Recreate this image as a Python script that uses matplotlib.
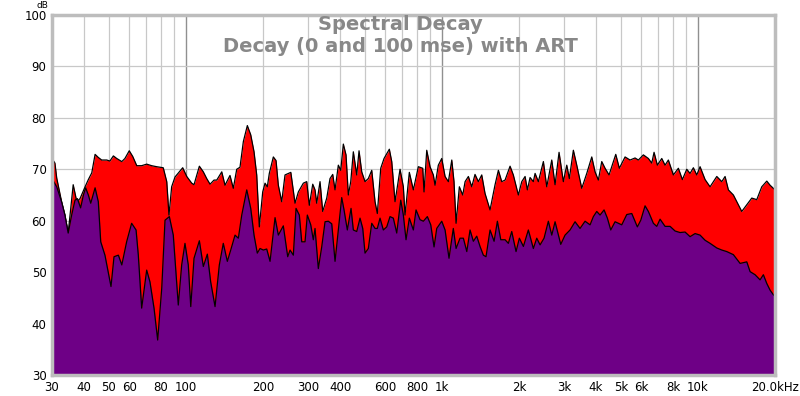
import numpy as np
import matplotlib
matplotlib.use("Agg")
import matplotlib.pyplot as plt
from matplotlib.ticker import FixedLocator, NullFormatter, NullLocator

# %%	data (Hz, dB)

freq_0ms = [
    30.0, 30.8, 31.3, 32.7, 33.7, 34.7, 36.3, 37.5, 38.6, 40.4, 41.6, 42.9, 44.2, 45.5, 46.9,
    49.1, 50.5, 52.1, 53.7, 56.2, 57.8, 60.1, 62.0, 64.3, 67.2, 70.3, 73.5, 76.9, 81.6, 84.2,
    85.9, 88.0, 90.7, 92.1, 97.2, 100.8, 105.4, 107.6, 112.9, 117.0, 120.6, 124.3, 128.8, 132.0,
    138.1, 142.2, 148.7, 153.2, 158.0, 162.7, 167.7, 173.8, 179.2, 184.6, 189.1, 193.6, 199.6,
    203.8, 208.0, 211.8, 219.6, 225.0, 229.7, 236.8, 243.9, 257.0, 266.9, 275.0, 287.6, 296.5,
    303.5, 313.0, 319.5, 324.4, 334.2, 342.4, 355.0, 365.6, 374.6, 382.5, 394.0, 402.6, 412.1,
    422.2, 431.1, 440.5, 450.9, 464.9, 474.6, 486.3, 500.9, 516.0, 532.1, 548.1, 559.5, 576.9,
    594.3, 623.3, 636.9, 656.1, 686.3, 707.0, 717.8, 746.1, 773.5, 809.1, 841.7, 851.6, 872.6,
    898.8, 925.9, 940.2, 968.5, 998.6, 1029, 1060, 1093, 1115, 1136, 1170, 1206, 1232, 1269,
    1308, 1347, 1388, 1431, 1474, 1542, 1613, 1662, 1713, 1765, 1846, 1901, 1989, 2051, 2113,
    2157, 2210, 2276, 2312, 2381, 2491, 2568, 2686, 2767, 2868, 2981, 3074, 3146, 3262, 3363,
    3518, 3680, 3849, 3965, 4084, 4211, 4338, 4497, 4607, 4776, 4933, 5193, 5432, 5681, 5853,
    6122, 6404, 6602, 6740, 6944, 7224, 7441, 7666, 8018, 8387, 8695, 9045, 9318, 9599, 9897,
    10195, 10664, 11154, 11848, 12392, 12766, 13151, 13756, 14834, 15517, 16231, 16977, 17758,
    18575, 19135, 20000,
]
db_0ms = [
    72.1, 71.2, 68.3, 63.7, 61.1, 57.6, 67.0, 63.7, 64.3, 66.6, 68.0, 69.3, 72.9, 72.3, 71.8,
    71.8, 71.6, 72.6, 72.1, 71.5, 72.1, 73.6, 72.5, 70.7, 70.7, 71.0, 70.7, 70.5, 70.3, 67.6,
    61.1, 66.6, 68.5, 68.9, 70.3, 68.6, 67.3, 67.0, 70.6, 69.5, 68.2, 67.1, 67.9, 67.9,
    69.5, 66.9, 68.8, 66.3, 70.0, 70.4, 75.4, 78.5, 76.7, 73.4, 68.9, 58.8, 65.6,
    67.3, 66.6, 69.2, 72.4, 71.7, 66.9, 63.7, 68.9, 69.4, 63.4, 65.6, 67.3, 67.6,
    63.0, 67.1, 66.0, 63.4, 67.6, 61.8, 64.4, 68.2, 69.0, 66.0, 70.8, 69.8, 74.9,
    72.8, 65.0, 67.6, 73.4, 68.9, 73.6, 69.5, 67.6, 68.2, 69.8, 63.7, 61.4, 70.2,
    72.1, 73.9, 71.5, 63.7, 70.0, 66.6, 61.1, 69.4, 66.0, 70.5, 70.2, 65.6, 73.7,
    70.5, 68.9, 66.9, 70.8, 72.1, 68.6, 67.6, 71.8, 67.6, 59.5, 66.6, 65.0, 67.6, 68.6,
    66.6, 69.0, 67.6, 68.9, 65.3, 62.1, 67.0, 69.8, 67.6, 67.9, 70.6, 68.9, 65.0, 67.6, 68.6,
    66.0, 68.4, 67.6, 69.2, 67.6, 71.5, 66.6, 71.8, 67.0, 73.3, 67.6, 70.8, 68.2, 73.7, 70.8,
    66.3, 69.2, 72.4, 69.5, 67.9, 71.5, 70.2, 68.9, 70.5, 72.9, 70.2, 72.4, 71.8, 72.2, 71.8,
    72.8, 72.1, 71.2, 73.3, 70.8, 72.1, 70.8, 71.8, 68.9, 70.2, 68.0, 70.0, 69.2, 70.3, 68.9,
    70.5, 68.0, 66.6, 68.6, 67.6, 68.6, 66.0, 65.0, 61.8, 63.1, 64.4, 64.1, 66.6,
    67.7, 66.9, 66.0,
]

freq_100ms = [
    30.0, 31.3, 32.7, 33.7, 34.7, 35.8, 36.9, 37.7, 38.8, 39.8, 40.6, 41.6, 42.5, 44.2, 45.5,
    46.5, 48.3, 51.0, 52.4, 54.5, 56.2, 58.7, 61.4, 63.9, 65.2, 67.2, 70.3, 72.4, 75.1, 77.6,
    80.5, 82.9, 86.2, 89.3, 93.4, 96.3, 99.2, 102.2, 104.5, 107.6, 112.9, 117.0, 121.3, 125.0,
    130.0, 135.1, 140.0, 145.2, 149.7, 155.6, 160.3, 165.3, 172.9, 179.2, 184.6, 190.1, 194.8,
    200.7, 206.9, 213.2, 223.0, 229.7, 240.2, 249.9, 255.2, 262.9, 269.3, 277.4, 283.5, 292.0,
    298.1, 307.4, 314.6, 319.5, 329.1, 339.3, 349.6, 360.1, 371.3, 382.5, 394.0, 406.2, 414.7,
    427.2, 441.7, 450.9, 464.9, 478.9, 490.7, 500.9, 516.0, 532.1, 548.1, 559.5, 573.3, 590.6,
    608.9, 627.2, 646.1, 666.2, 690.6, 707.0, 724.3, 746.1, 773.5, 792.5, 821.5, 846.3, 877.3,
    904.5, 931.8, 954.7, 998.6, 1029, 1066, 1108, 1136, 1177, 1213, 1251, 1288, 1327, 1368,
    1409, 1452, 1487, 1542, 1599, 1647, 1698, 1765, 1818, 1874, 1948, 2007, 2081, 2176, 2276,
    2347, 2418, 2506, 2605, 2686, 2767, 2912, 3027, 3167, 3312, 3464, 3624, 3791, 3905, 4026,
    4147, 4299, 4429, 4566, 4746, 4889, 5041, 5273, 5516, 5800, 5981, 6216, 6404, 6698, 6906,
    7114, 7441, 7784, 8142, 8516, 8908, 9318, 9746, 10195, 10664, 11154, 11848, 12392, 12962,
    13756, 14610, 15517, 15985, 16720, 17487, 18014, 18575, 19135, 19711, 20000,
]
db_100ms = [
    68.2, 66.6, 63.7, 61.1, 57.6, 61.1, 64.0, 64.3, 62.5, 65.0, 66.4, 65.0, 63.4, 66.4, 63.7,
    55.9, 53.3, 47.2, 53.0, 53.3, 51.4, 55.9, 59.5, 58.2, 53.3, 43.0, 50.4, 48.1, 43.0, 36.8,
    46.9, 60.1, 60.8, 57.2, 43.6, 51.4, 55.6, 51.4, 43.3, 52.7, 56.1, 51.1, 53.5, 48.1,
    43.3, 51.4, 55.6, 52.1, 54.3, 57.2, 56.6, 61.1, 66.0, 62.4, 57.2, 53.7, 54.6,
    54.3, 54.5, 52.1, 60.6, 57.2, 59.0, 53.0, 54.3, 53.3, 62.4, 61.1, 55.9, 55.9,
    61.1, 59.2, 56.3, 58.5, 50.7, 54.9, 59.8, 59.9, 59.4, 52.1, 58.2, 64.5, 62.1,
    58.2, 62.4, 58.2, 57.9, 60.5, 58.5, 53.7, 54.6, 59.5, 58.5, 58.5, 60.5, 58.2,
    58.8, 60.8, 60.5, 57.6, 64.0, 61.1, 56.3, 60.5, 58.2, 62.1, 60.2, 59.9, 60.8,
    59.2, 54.9, 58.5, 59.9, 58.2, 52.7, 58.5, 54.6, 56.6, 56.6, 54.0, 58.2, 56.0, 57.0,
    55.0, 53.3, 53.0, 58.2, 56.0, 59.9, 56.3, 56.3, 55.6, 57.9, 54.0, 56.6, 55.0, 58.2, 54.6,
    56.6, 55.3, 56.6, 59.9, 57.2, 59.8, 55.4, 57.2, 58.2, 59.8, 58.5, 59.9, 59.2, 60.8, 61.8,
    61.1, 62.1, 60.5, 58.2, 59.8, 59.5, 59.2, 61.2, 61.4, 58.8, 60.1, 62.9, 61.8, 59.5, 58.9,
    60.3, 58.9, 58.9, 58.0, 57.7, 57.8, 56.9, 57.5, 57.2, 56.2, 55.6, 54.7, 54.3, 54.0,
    53.4, 51.7, 52.0, 50.1, 49.5, 48.5, 49.5, 47.8, 46.5, 45.6, 45.3,
]

x_ticks = [30, 40, 50, 60, 80, 100, 200, 300, 400, 600, 800, 1000,
           2000, 3000, 4000, 5000, 6000, 8000, 10000, 20000]
x_labels = ["30", "40", "50", "60", "80", "100", "200", "300", "400", "600", "800", "1k",
            "2k", "3k", "4k", "5k", "6k", "8k", "10k", "20.0kHz"]
y_ticks = [30, 40, 50, 60, 70, 80, 90, 100]

grid_minor = [30, 40, 50, 60, 70, 80, 90, 200, 300, 400, 500, 600, 700, 800, 900,
              2000, 3000, 4000, 5000, 6000, 7000, 8000, 9000]
grid_major = [100, 1000, 10000]

# %%	plot

fig = plt.figure(figsize=(8, 3.96), dpi=100)
ax = fig.add_axes([52 / 800, 1 - 375 / 396, 723 / 800, 360 / 396])

ax.set_xscale("log")
ax.set_xlim(30, 20000)
ax.set_ylim(30, 100)

for f in grid_minor:
    ax.axvline(f, color="#c8c8c8", lw=0.9, zorder=0)
for f in grid_major:
    ax.axvline(f, color="#909090", lw=1.0, zorder=0)
for v in y_ticks[1:-1]:
    ax.axhline(v, color="#c8c8c8", lw=0.9, zorder=0)

ax.fill_between(freq_0ms, 30, db_0ms, color="#ff0000", lw=0, zorder=2)
ax.plot(freq_0ms, db_0ms, color="black", lw=0.9, zorder=3)
ax.fill_between(freq_100ms, 30, db_100ms, color="#6e0086", lw=0, zorder=4)
ax.plot(freq_100ms, db_100ms, color="black", lw=0.9, zorder=5)

ax.xaxis.set_major_locator(FixedLocator(x_ticks))
ax.set_xticklabels(x_labels)
ax.xaxis.set_minor_locator(NullLocator())
ax.xaxis.set_minor_formatter(NullFormatter())
ax.set_yticks(y_ticks)
ax.tick_params(axis="both", length=0, labelsize=8.5, colors="black")
ax.tick_params(axis="x", pad=4)
ax.tick_params(axis="y", pad=4)

for s in ax.spines.values():
    s.set_color("#bdbdbd")
    s.set_linewidth(2.5)
    s.set_zorder(6)

fig.text(42 / 800, 1 - 5.5 / 396, "dB", fontsize=6.5, ha="center", va="center")
fig.text(0.5, 1 - 25 / 396, "Spectral Decay", fontsize=14, fontweight="bold",
         color="#888888", ha="center", va="center")
fig.text(0.5, 1 - 46 / 396, "Decay (0 and 100 mse) with ART", fontsize=14,
         fontweight="bold", color="#888888", ha="center", va="center")

fig.savefig("out.png", dpi=100)
